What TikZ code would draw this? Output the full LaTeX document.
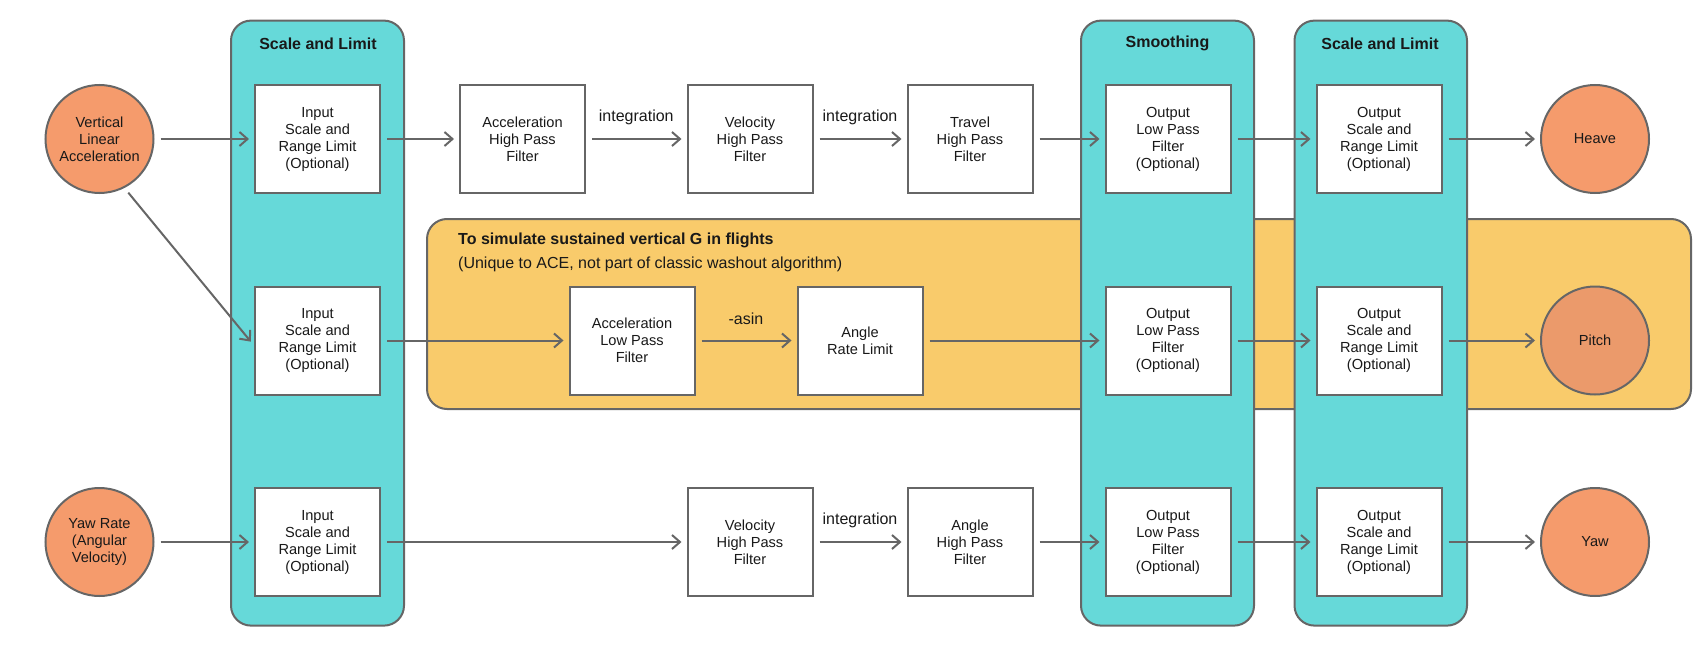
\documentclass[tikz,border=0pt]{standalone}
\usepackage{fontspec}
\setmainfont{Liberation Sans}
\usetikzlibrary{arrows.meta,calc}
\definecolor{lineGray}{HTML}{666666}
\definecolor{tealFill}{HTML}{66D9D9}
\definecolor{amberFill}{HTML}{F9CB6B}
\definecolor{salmonFill}{HTML}{F59B6C}
\definecolor{pitchFill}{HTML}{EB9A6B}
\tikzset{
  stage/.style={draw=lineGray, line width=2pt, fill=white, minimum width=125pt, minimum height=108pt, inner sep=0pt, align=center, text=black!90, font=\fontsize{14.6}{17}\selectfont},
  signal/.style={circle, draw=lineGray, line width=2pt, fill=salmonFill, minimum size=108pt, inner sep=0pt, align=center, text=black!90, font=\fontsize{14.6}{17}\selectfont},
  flow/.style={draw=lineGray, line width=2pt, -{Straight Barb[length=8pt,width=14pt]}, shorten <=6pt, shorten >=5pt},
  edgetext/.style={inner sep=0pt, yshift=22pt, text=black!90, font=\fontsize{16}{19}\selectfont},
  column/.style={draw=lineGray, line width=2pt, fill=tealFill, rounded corners=20pt},
  region/.style={draw=lineGray, line width=2pt, fill=amberFill, rounded corners=20pt},
  coltitle/.style={inner sep=0pt, text=black!90, font=\bfseries\fontsize{16}{19}\selectfont}
}
\begin{document}
\begin{tikzpicture}[x=1pt,y=-1pt]
			%%%%% START %%%%%
			\useasboundingbox (0,0) rectangle (1700,650);
			
			% sustained G band, behind the columns
			\draw[region] (427,219) rectangle (1691,409);
			\node[coltitle, anchor=west] (gtitle) at (458,240) {To simulate sustained vertical G in flights};
			\node[inner sep=0pt, anchor=west, text=black!90, font=\fontsize{16}{19}\selectfont] (gnote) at (458,264) {(Unique to ACE, not part of classic washout algorithm)};
			
			% columns
			\draw[column] (231,20.6) rectangle (404,625.6);
			\draw[column] (1081,20.6) rectangle (1254,625.6);
			\draw[column] (1294.5,20.6) rectangle (1467,625.6);
			\node[coltitle] (inttl) at (318,43.5) {Scale and Limit};
			\node[coltitle] (smttl) at (1167.5,43.5) {Smoothing};
			\node[coltitle] (outtl) at (1380,43.5) {Scale and Limit};
			
			% inputs
			\node[signal] (vla) at (99.5,139) {Vertical\\Linear\\Acceleration};
			\node[signal] (yaw) at (99.5,542) {Yaw Rate\\(Angular\\Velocity)};
			
			\node[stage] (in1) at (317.5,139) {Input\\Scale and\\Range Limit\\(Optional)};
			\node[stage] (in2) at (317.5,340.5) {Input\\Scale and\\Range Limit\\(Optional)};
			\node[stage] (in3) at (317.5,542) {Input\\Scale and\\Range Limit\\(Optional)};
			
			% heave chain
			\node[stage] (acchp) at (522.5,139) {Acceleration\\High Pass\\Filter};
			\node[stage] (velhp) at (750,139) {Velocity\\High Pass\\Filter};
			\node[stage] (travhp) at (970,139) {Travel\\High Pass\\Filter};
			
			% pitch chain
			\node[stage] (acclp) at (632,340.5) {Acceleration\\Low Pass\\Filter};
			\node[stage] (angrl) at (860,340.5) {Angle\\Rate Limit};
			
			% yaw chain
			\node[stage] (yawvel) at (750,542) {Velocity\\High Pass\\Filter};
			\node[stage] (yawang) at (970,542) {Angle\\High Pass\\Filter};
			
			% outputs
			\node[stage] (olp1) at (1168,139) {Output\\Low Pass\\Filter\\(Optional)};
			\node[stage] (olp2) at (1168,340.5) {Output\\Low Pass\\Filter\\(Optional)};
			\node[stage] (olp3) at (1168,542) {Output\\Low Pass\\Filter\\(Optional)};
			\node[stage] (osl1) at (1379,139) {Output\\Scale and\\Range Limit\\(Optional)};
			\node[stage] (osl2) at (1379,340.5) {Output\\Scale and\\Range Limit\\(Optional)};
			\node[stage] (osl3) at (1379,542) {Output\\Scale and\\Range Limit\\(Optional)};
			
			\node[signal] (heave) at (1595,139) {Heave};
			\node[signal, fill=pitchFill] (pitch) at (1595,340.5) {Pitch};
			\node[signal] (yawout) at (1595,542) {Yaw};
			
			% connectors
			\draw[flow] (vla) -- (in1);
			\draw[flow] (vla.-63) -- ([yshift=-5pt]in2.west);
			\draw[flow] (yaw) -- (in3);
			
			\draw[flow] (in1) -- (acchp);
			\draw[flow] (acchp) -- node[edgetext, midway] {integration} (velhp);
			\draw[flow] (velhp) -- node[edgetext, midway] {integration} (travhp);
			\draw[flow] (travhp) -- (olp1);
			
			\draw[flow] (in2) -- (acclp);
			\draw[flow] (acclp) -- node[edgetext, midway] {-asin} (angrl);
			\draw[flow] (angrl) -- (olp2);
			
			\draw[flow] (in3) -- (yawvel);
			\draw[flow] (yawvel) -- node[edgetext, midway] {integration} (yawang);
			\draw[flow] (yawang) -- (olp3);
			
			\draw[flow] (olp1) -- (osl1);
			\draw[flow] (olp2) -- (osl2);
			\draw[flow] (olp3) -- (osl3);
			\draw[flow] (osl1) -- (heave);
			\draw[flow] (osl2) -- (pitch);
			\draw[flow] (osl3) -- (yawout);
			%%%%% END %%%%%
\end{tikzpicture}
\end{document}
